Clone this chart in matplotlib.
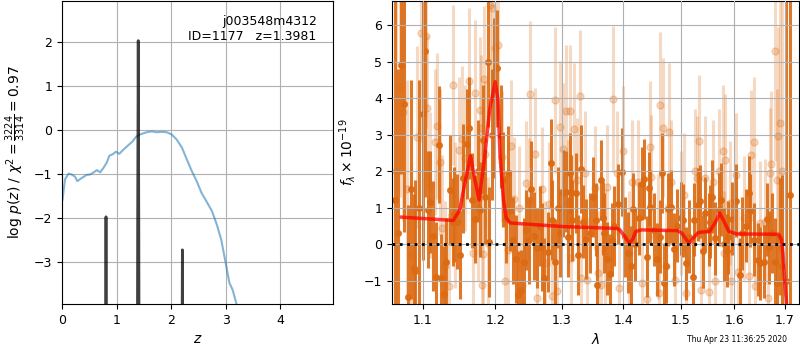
import matplotlib
matplotlib.use('Agg')
import matplotlib.pyplot as plt
from matplotlib.ticker import NullLocator, FixedLocator, FixedFormatter

plt.rcParams['font.size'] = 9

# --- left panel: redshift fit ---
z_chi2 = [0.01, 0.055, 0.12, 0.18, 0.24, 0.28, 0.36, 0.45, 0.51, 0.57, 0.64, 0.70,
          0.76, 0.82, 0.87, 0.93, 0.99, 1.05, 1.13, 1.22, 1.30, 1.36, 1.43, 1.55,
          1.65, 1.74, 1.83, 1.92, 2.01, 2.10, 2.20, 2.29, 2.38, 2.47, 2.56, 2.65,
          2.75, 2.84, 2.92, 2.99, 3.07, 3.13, 3.20, 3.30]
chi2_scaled = [-1.58, -1.12, -0.99, -1.01, -1.06, -1.16, -1.09, -1.02, -1.01, -0.97,
               -0.91, -0.96, -0.86, -0.74, -0.58, -0.55, -0.49, -0.54, -0.44, -0.34,
               -0.25, -0.15, -0.10, -0.05, -0.03, -0.05, -0.04, -0.05, -0.10, -0.21,
               -0.40, -0.67, -0.93, -1.16, -1.43, -1.62, -1.84, -2.15, -2.49, -2.94,
               -3.47, -3.63, -3.95, -4.60]

z_pdf = [0.0, 0.78, 0.795, 0.802, 0.807, 0.812, 0.819, 0.84,
         1.36, 1.378, 1.388, 1.398, 1.408, 1.418, 1.44,
         2.18, 2.196, 2.203, 2.208, 2.213, 2.22, 2.24, 4.97]
log_pdf = [-20, -20, -8, -4.0, -1.97, -4.0, -8, -20,
           -20, -8, -2.0, 2.03, -2.0, -8, -20,
           -20, -8, -4.5, -2.72, -4.5, -8, -20, -20]

# --- right panel: spectrum (microns, 1e-19 flux units) ---
wave_a = [1.064, 1.068, 1.072, 1.076, 1.080, 1.084, 1.088, 1.090, 1.095, 1.100,
          1.103, 1.107, 1.110, 1.113, 1.117, 1.121, 1.124, 1.128, 1.131, 1.136,
          1.140, 1.142, 1.146, 1.150, 1.155, 1.160, 1.163, 1.167, 1.171, 1.175,
          1.178, 1.182, 1.186, 1.190, 1.191, 1.195, 1.199, 1.203, 1.208, 1.212,
          1.215, 1.219, 1.222, 1.226, 1.230, 1.234, 1.238, 1.242, 1.246, 1.250,
          1.253, 1.258, 1.262, 1.266, 1.270, 1.273, 1.278, 1.283, 1.285, 1.290,
          1.294, 1.298, 1.302, 1.306, 1.310, 1.313, 1.315, 1.316, 1.322, 1.326,
          1.330, 1.334, 1.339, 1.345, 1.350, 1.354, 1.357, 1.363, 1.366, 1.368,
          1.372, 1.377, 1.381, 1.385, 1.391, 1.397, 1.402, 1.407, 1.413, 1.416,
          1.420, 1.426, 1.432, 1.435, 1.440, 1.444, 1.446, 1.452, 1.458, 1.463,
          1.466, 1.470, 1.474, 1.477, 1.483, 1.488, 1.494, 1.500, 1.504, 1.509,
          1.515, 1.522, 1.524, 1.532, 1.535, 1.540, 1.545, 1.551, 1.554, 1.558,
          1.563, 1.570, 1.575, 1.580, 1.585, 1.588, 1.595, 1.603, 1.610, 1.615,
          1.622, 1.629, 1.631, 1.637, 1.645, 1.650, 1.657, 1.663, 1.668, 1.674,
          1.679, 1.684, 1.690, 1.695, 1.703, 1.711]
flux_a = [1.2, 0.3, 4.91, 3.84, -1.44, 1.5, -0.64, -0.73, 1.0, 3.57,
          5.3, 0.94, 1.16, 0.23, -0.9, 2.72, -0.92, -1.36, -0.49, 1.49,
          0.6, 0.82, 0.62, -0.3, 1.8, 2.75, 3.19, 1.2, 0.69, 2.0,
          0.94, 2.86, 1.3, 5.0, 0.06, 3.0, 4.0, 4.82, 2.95, 1.76,
          0.69, 1.94, 0.92, 0.1, -0.4, -1.39, -1.25, -0.48, 0.39, 0.1,
          1.52, 0.23, -0.11, 0.5, -0.07, -0.93, -0.22, 2.22, 0.67, -0.5,
          1.0, 0.3, 1.39, 1.44, 0.2, 1.94, 1.44, 0.65, 1.41, -0.3,
          2.06, 0.62, 0.14, 0.3, 1.3, 0.67, -1.11, 1.76, 0.71, 0.3,
          -0.4, -0.82, 0.12, 0.5, 1.1, 1.97, 0.2, -0.23, -0.61, 0.96,
          0.0, 0.71, 1.65, 1.78, -0.34, 1.53, 1.03, 0.4, -0.41, 0.2,
          1.94, -1.07, -0.61, 0.96, 1.03, -0.14, 0.5, 0.71, 0.65, -0.52,
          0.2, -0.91, 0.67, 1.08, 1.17, -0.2, 0.85, 0.4, 0.62, 1.3,
          0.16, 0.94, 1.21, 0.0, -0.18, 0.19, 0.7, 1.19, -0.84, 0.3,
          0.5, 1.41, 0.92, 0.12, -0.43, -0.52, -0.48, 0.68, -0.08, 0.3,
          -0.48, -1.07, 0.2, -0.6, -1.0, 1.35]
err_a = [6.0, 4.5, 3.0, 3.5, 2.5, 3.0, 2.0, 2.5, 3.5, 4.0,
         4.0, 1.6, 1.4, 1.5, 1.5, 1.6, 1.2, 1.3, 1.2, 1.5,
         1.2, 1.3, 1.3, 1.2, 1.5, 1.5, 1.4, 1.3, 1.2, 1.4,
         1.3, 1.5, 1.3, 1.8, 1.5, 1.8, 2.2, 1.6, 1.4, 1.3,
         1.2, 1.3, 1.1, 1.2, 1.2, 1.2, 1.1, 1.2, 1.1, 1.2,
         1.3, 1.2, 1.1, 1.1, 1.2, 1.1, 1.1, 1.2, 1.1, 1.2,
         1.1, 1.2, 1.2, 1.1, 1.1, 1.1, 1.0, 1.1, 1.1, 1.1,
         1.2, 1.0, 1.1, 1.1, 1.1, 1.0, 1.1, 1.1, 1.0, 1.1,
         1.0, 1.1, 1.0, 1.1, 1.1, 1.2, 1.1, 1.1, 1.1, 1.0,
         1.0, 1.0, 1.0, 1.1, 1.1, 1.0, 1.0, 1.0, 1.0, 1.0,
         1.1, 1.1, 1.0, 1.0, 1.0, 1.0, 1.0, 1.0, 1.0, 1.0,
         1.0, 1.0, 1.0, 1.0, 1.0, 1.0, 1.0, 1.0, 1.0, 1.0,
         1.0, 1.0, 1.0, 1.0, 1.0, 1.0, 1.0, 1.0, 1.0, 1.0,
         1.0, 1.0, 1.0, 1.0, 1.0, 1.0, 1.0, 1.0, 1.0, 1.1,
         1.2, 1.3, 1.6, 2.5, 8.0, 8.0]

wave_b = [1.065, 1.070, 1.074, 1.079, 1.085, 1.092, 1.098, 1.104, 1.106, 1.110,
          1.116, 1.119, 1.123, 1.126, 1.130, 1.135, 1.140, 1.144, 1.149, 1.153,
          1.157, 1.163, 1.168, 1.171, 1.175, 1.178, 1.180, 1.181, 1.183, 1.184,
          1.186, 1.189, 1.193, 1.196, 1.200, 1.204, 1.210, 1.214, 1.218, 1.223,
          1.228, 1.235, 1.240, 1.245, 1.250, 1.252, 1.259, 1.262, 1.270, 1.274,
          1.280, 1.285, 1.290, 1.292, 1.297, 1.302, 1.307, 1.310, 1.313, 1.315,
          1.320, 1.324, 1.328, 1.330, 1.337, 1.340, 1.353, 1.358, 1.362, 1.369,
          1.373, 1.383, 1.389, 1.392, 1.400, 1.410, 1.415, 1.425, 1.432, 1.440,
          1.445, 1.448, 1.460, 1.462, 1.463, 1.469, 1.474, 1.479, 1.482, 1.490,
          1.500, 1.505, 1.510, 1.525, 1.530, 1.533, 1.537, 1.545, 1.552, 1.560,
          1.563, 1.570, 1.578, 1.580, 1.582, 1.592, 1.593, 1.602, 1.606, 1.618,
          1.628, 1.632, 1.637, 1.640, 1.650, 1.660, 1.665, 1.670, 1.672, 1.680,
          1.684, 1.686, 1.690, 1.695]
flux_b = [2.0, 4.3, 3.63, 1.5, -0.3, 2.93, 5.79, 5.69, 3.73, 1.62,
          2.81, 3.24, 2.25, 0.45, -0.61, -1.14, 4.36, 0.8, 2.58, 2.87,
          2.36, 4.48, -0.23, 4.14, 1.0, 3.68, 3.19, -1.13, -0.27, 4.52,
          2.47, 0.03, 6.56, 6.47, 5.37, 5.46, 2.4, -1.01, -0.16, 2.7,
          1.23, 1.0, -1.11, 1.67, 1.21, 4.11, 2.47, -1.48, 1.52, -0.52,
          1.09, -1.42, 3.95, -1.27, 3.22, 2.61, 3.65, 1.14, 3.65, -0.38,
          3.16, 1.76, 4.06, -0.93, 1.94, -0.98, 1.53, -0.79, -1.11, -0.18,
          1.56, 3.98, 1.94, -1.2, 2.54, -0.25, 1.71, 1.69, -1.07, -1.5,
          2.67, 1.85, 0.21, -1.34, 3.82, 3.19, -0.61, 3.06, 1.69, -0.98,
          0.85, 1.35, -1.33, 1.99, 1.81, 2.83, -1.25, 1.81, -1.3, 1.71,
          -1.02, 1.99, 2.56, -0.25, 2.31, 1.12, -1.02, 1.9, -0.75, 0.71,
          -0.87, 2.43, 2.79, -1.14, 0.59, 0.62, -1.48, 1.94, 2.2, 5.28,
          1.76, 2.95, 3.32, 2.0]
err_b = [5.0, 3.0, 3.0, 3.0, 2.5, 2.5, 3.0, 2.5, 2.0, 2.0,
         2.0, 2.0, 2.0, 2.0, 1.8, 2.0, 2.2, 2.0, 2.0, 2.0,
         2.0, 2.0, 1.8, 2.0, 2.0, 2.0, 2.0, 2.0, 1.8, 2.0,
         2.0, 1.8, 2.5, 2.5, 2.0, 2.0, 1.8, 1.8, 1.7, 1.8,
         1.7, 1.7, 1.7, 1.7, 1.7, 2.0, 1.8, 1.7, 1.7, 1.7,
         1.7, 1.7, 2.0, 1.7, 1.8, 1.8, 1.8, 1.7, 1.8, 1.7,
         1.8, 1.7, 1.8, 1.7, 1.7, 1.7, 1.7, 1.7, 1.7, 1.7,
         1.7, 2.0, 1.7, 1.7, 1.8, 1.7, 1.7, 1.7, 1.7, 1.7,
         1.8, 1.7, 1.7, 1.7, 2.0, 1.9, 1.7, 1.9, 1.7, 1.7,
         1.7, 1.7, 1.7, 1.7, 1.7, 1.8, 1.7, 1.7, 1.7, 1.7,
         1.7, 1.7, 1.8, 1.7, 1.8, 1.7, 1.7, 1.7, 1.7, 1.7,
         1.7, 1.8, 1.8, 1.7, 1.7, 1.7, 1.8, 1.8, 2.0, 3.0,
         2.5, 3.0, 3.5, 5.0]

wave_model = [1.072, 1.141, 1.150, 1.157, 1.165, 1.171, 1.177, 1.185, 1.192, 1.200,
              1.204, 1.207, 1.212, 1.216, 1.222, 1.303, 1.389, 1.394, 1.403, 1.410,
              1.416, 1.421, 1.431, 1.494, 1.502, 1.511, 1.516, 1.524, 1.532, 1.553,
              1.563, 1.572, 1.580, 1.589, 1.604, 1.687, 1.693, 1.696, 1.699, 1.703,
              1.706]
flux_model = [0.74, 0.65, 0.94, 1.67, 2.42, 1.76, 1.21, 2.40, 3.68, 4.45,
              3.95, 2.40, 1.21, 0.71, 0.58, 0.48, 0.43, 0.39, 0.19, 0.03,
              0.14, 0.35, 0.39, 0.37, 0.30, 0.10, 0.04, 0.19, 0.32, 0.35,
              0.58, 0.85, 0.62, 0.35, 0.28, 0.27, 0.12, -0.25, -0.89, -1.6,
              -3.0]

timestamp = 'Thu Apr 23 11:36:25 2020'
orange = '#dc6a12'

fig = plt.figure(figsize=(8, 3.5), dpi=100)
ax1 = fig.add_axes([0.0775, 0.1314, 0.33875, 0.8657])
ax2 = fig.add_axes([0.49, 0.1314, 0.50875, 0.8657])

# redshift panel
ax1.plot(z_chi2, chi2_scaled, color='tab:blue', alpha=0.55, linewidth=1.5)
ax1.plot(z_pdf, log_pdf, color='k', alpha=0.75, linewidth=2)
ax1.set_xlim(0, 4.97)
ax1.set_ylim(-3.95, 2.93)
ax1.set_xticks([0, 1, 2, 3, 4])
ax1.set_yticks([-3, -2, -1, 0, 1, 2])
ax1.set_xlabel('$z$', fontsize=10)
ax1.set_ylabel(r'$\log\,p(z)$ / $\chi^2=\frac{3224}{3314}=0.97$', fontsize=10)
ax1.grid()
ax1.text(0.94, 0.955, 'j003548m4312\nID=1177   z=1.3981', transform=ax1.transAxes,
         ha='right', va='top', fontsize=9)

# spectrum panel
ax2.errorbar(wave_b, flux_b, yerr=err_b, marker='o', linestyle='none', color=orange,
             alpha=0.25, markersize=5, elinewidth=2.2, capsize=0, zorder=1)
ax2.errorbar(wave_a, flux_a, yerr=err_a, marker='o', linestyle='none', color=orange,
             alpha=0.9, markersize=4, elinewidth=2.2, capsize=0, zorder=2)
ax2.plot(wave_model, flux_model, color='red', alpha=0.75, linewidth=2.5, zorder=4)
ax2.axhline(0, color='k', linestyle=':', linewidth=2, zorder=5)

ax2.set_xscale('log')
ax2.set_xlim(1.06, 1.729)
ax2.set_ylim(-1.64, 6.66)
xt = [1.1, 1.2, 1.3, 1.4, 1.5, 1.6, 1.7]
ax2.xaxis.set_major_locator(FixedLocator(xt))
ax2.xaxis.set_major_formatter(FixedFormatter([f'{v:.1f}' for v in xt]))
ax2.xaxis.set_minor_locator(NullLocator())
ax2.set_yticks([-1, 0, 1, 2, 3, 4, 5, 6])
ax2.set_xlabel(r'$\lambda$', fontsize=10)
ax2.set_ylabel(r'$f_\lambda\times10^{-19}$', fontsize=10)
ax2.set_axisbelow(False)
ax2.grid(zorder=3)

fig.text(0.984, 0.029, timestamp, ha='right', va='center', fontsize=5.5)

fig.savefig('out.png', dpi=100)
